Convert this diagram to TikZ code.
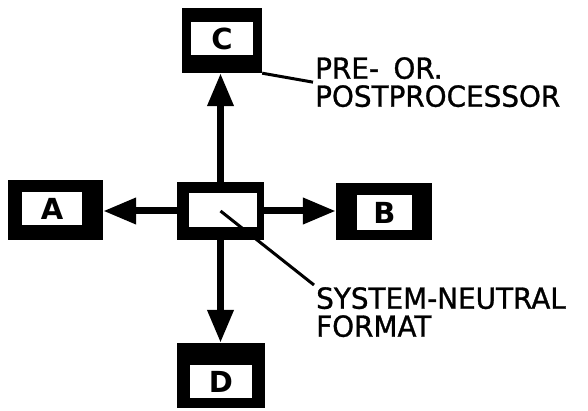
\documentclass[tikz,border=0pt]{standalone}
\usepackage{fontspec}
\setmainfont{DejaVu Sans}
\newfontfamily\plotfont[FakeStretch=0.96,FakeBold=1]{DejaVu Sans}
\usetikzlibrary{arrows.meta}

\tikzset{
	unit/.style={fill=black, inner sep=0pt},
	slot/.style={fill=white, inner sep=0pt, font=\bfseries\fontsize{29}{29}\selectfont},
	flow/.style={line width=7pt, -{Triangle[length=33pt,width=25pt]}},
	leader/.style={line width=3pt},
	note/.style={align=left, inner sep=2pt, font=\plotfont\fontsize{29}{28}\selectfont}
}

\begin{document}
\begin{tikzpicture}[x=1pt,y=-1pt]
		\useasboundingbox (0,0) rectangle (588,411);
		
		% neutral format in the middle
		\node[unit, minimum width=87pt, minimum height=58pt] (Z) at (220.5,211) {};
		\node[slot, minimum width=68pt, minimum height=34pt] (z) at (223,210) {};
		
		% the four systems
		\node[unit, minimum width=95pt, minimum height=60pt] (A) at (55.5,210) {};
		\node[slot, minimum width=60pt, minimum height=33pt] (a) at (52,208.5) {A};
		
		\node[unit, minimum width=96pt, minimum height=57pt] (B) at (384,211.5) {};
		\node[slot, minimum width=55pt, minimum height=35pt] (b) at (384.5,212.5) {B};
		
		\node[unit, minimum width=80pt, minimum height=65pt] (C) at (222,40.5) {};
		\node[slot, minimum width=62pt, minimum height=33pt] (c) at (222,38.5) {C};
		
		\node[unit, minimum width=88pt, minimum height=65pt] (D) at (221,375.5) {};
		\node[slot, minimum width=62pt, minimum height=33pt] (d) at (221,381.5) {D};
		
		% data flow out of the neutral format
		\draw[flow] (Z.west) -- (Z.west -| A.east);
		\draw[flow] (Z.east) -- (Z.east -| B.west);
		\draw[flow] (Z.north) -- (Z.north |- C.south);
		\draw[flow] (Z.south) -- (Z.south |- D.north);
		
		% labels
		\node[note, anchor=north west] (pre) at (313,55) {PRE-\enspace OR.\\POSTPROCESSOR};
		\draw[leader] (C.south east) -- (pre.west);
		
		\node[note, anchor=north west] (fmt) at (314,285) {SYSTEM-NEUTRAL\\FORMAT};
		\draw[leader] (Z.center) -- (fmt.north west);
	\end{tikzpicture}
\end{document}
